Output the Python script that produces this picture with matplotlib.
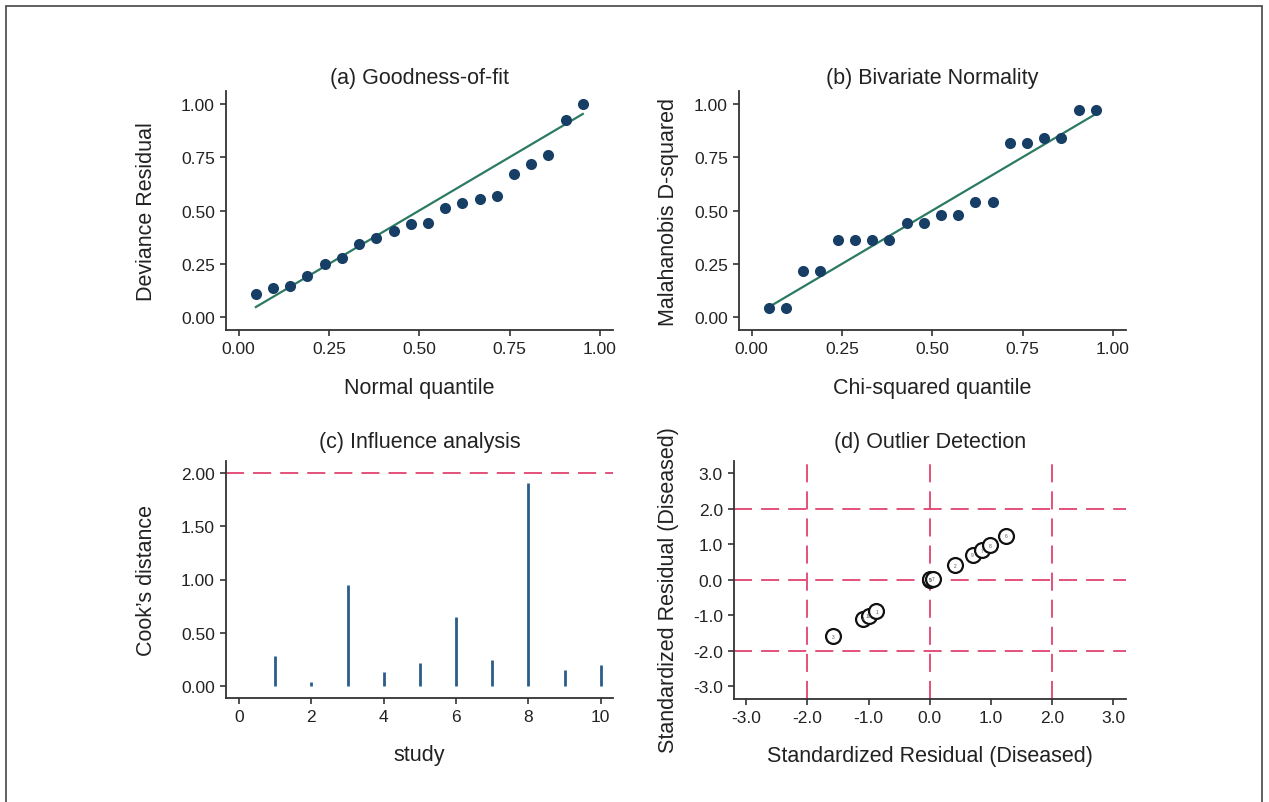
from __future__ import annotations

import matplotlib
matplotlib.use("Agg")
import matplotlib.pyplot as plt
from matplotlib.patches import Rectangle


# ---------------------------------------------------------------------
# Data
# ---------------------------------------------------------------------

# (a) goodness-of-fit: 20 deviance residuals vs normal quantiles
gof_quantile = [i / 21 for i in range(1, 21)]
gof_residual = [0.109, 0.139, 0.148, 0.192, 0.250, 0.278, 0.344, 0.372, 0.402, 0.436,
                0.441, 0.514, 0.533, 0.553, 0.569, 0.673, 0.719, 0.759, 0.925, 1.000]

# (b) bivariate normality: Mahalanobis D-squared vs chi-squared quantiles
bvn_quantile = [i / 21 for i in range(1, 21)]
bvn_dsq = [0.041, 0.041, 0.216, 0.216, 0.362, 0.362, 0.362, 0.362, 0.441, 0.441,
           0.477, 0.477, 0.538, 0.538, 0.814, 0.814, 0.841, 0.841, 0.969, 0.969]

# (c) influence analysis: Cook's distance per study
study_id = [1, 2, 3, 4, 5, 6, 7, 8, 9, 10]
cooks_d = [0.281, 0.044, 0.949, 0.131, 0.222, 0.646, 0.250, 1.900, 0.156, 0.200]
cooks_cutoff = 2.0

# (d) outlier detection: standardized residuals
outlier_x = [-1.58, -1.09, -1.00, -0.87, 0.00, 0.01, 0.05, 0.41, 0.70, 0.85, 0.98, 1.25]
outlier_y = [-1.59, -1.10, -1.01, -0.88, 0.00, 0.01, 0.03, 0.41, 0.70, 0.83, 0.98, 1.24]
outlier_labels = ["3", "4", "10", "1", "5", "9", "7", "2", "9", "7", "8", "6"]
outlier_cut = [-2.0, 0.0, 2.0]

quant_ticks = [0.00, 0.25, 0.50, 0.75, 1.00]
study_ticks = [0, 2, 4, 6, 8, 10]
cooks_ticks = [0.00, 0.50, 1.00, 1.50, 2.00]
resid_ticks = [-3.0, -2.0, -1.0, 0.0, 1.0, 2.0, 3.0]


# ---------------------------------------------------------------------
# Style
# ---------------------------------------------------------------------

plt.rcParams["font.family"] = ["Liberation Sans", "DejaVu Sans"]

DOT = "#173f66"
FIT = "#2b7a63"
STEM = "#2c5d8a"
CUT = "#e0436f"
AXC = "#333333"
TXT = "#222222"

TITLE_FS = 15.5
LABEL_FS = 15.5
TICK_FS = 12.5


def _style_axes(ax) -> None:
    for side in ("top", "right"):
        ax.spines[side].set_visible(False)
    for side in ("left", "bottom"):
        ax.spines[side].set_color(AXC)
        ax.spines[side].set_linewidth(1.3)
    ax.tick_params(direction="out", length=4.5, width=1.2, colors=AXC,
                   labelsize=TICK_FS, labelcolor=TXT)


def _labels(ax, title, xlabel, ylabel, ylab_x, ylab_y=0.5, title_pad=6) -> None:
    ax.set_title(title, fontsize=TITLE_FS, color=TXT, pad=title_pad)
    ax.set_xlabel(xlabel, fontsize=LABEL_FS, color=TXT, va="top")
    ax.set_ylabel(ylabel, fontsize=LABEL_FS, color=TXT)
    ax.xaxis.set_label_coords(0.5, -0.195)
    ax.yaxis.set_label_coords(ylab_x, ylab_y)


def _cut_line(ax, value, horizontal=True) -> None:
    kw = dict(color=CUT, lw=1.3, linestyle=(0, (10, 5)), zorder=1)
    if horizontal:
        ax.axhline(value, **kw)
    else:
        ax.axvline(value, **kw)


# ---------------------------------------------------------------------
# Panels
# ---------------------------------------------------------------------

def plot_qq(ax, x, y, title, xlabel, ylabel, ylab_x) -> None:
    ax.plot([x[0], x[-1]], [x[0], x[-1]], color=FIT, lw=1.6, zorder=2)
    ax.scatter(x, y, s=64, color=DOT, zorder=3, linewidths=0)
    ax.set_xlim(-0.035, 1.036)
    ax.set_ylim(-0.06, 1.06)
    ax.set_xticks(quant_ticks)
    ax.set_yticks(quant_ticks)
    ax.set_xticklabels([f"{t:.2f}" for t in quant_ticks])
    ax.set_yticklabels([f"{t:.2f}" for t in quant_ticks])
    _style_axes(ax)
    _labels(ax, title, xlabel, ylabel, ylab_x)


def plot_cooks(ax) -> None:
    ax.vlines(study_id, 0, cooks_d, color=STEM, lw=2.0, zorder=2)
    _cut_line(ax, cooks_cutoff)
    ax.set_xlim(-0.36, 10.34)
    ax.set_ylim(-0.11, 2.11)
    ax.set_xticks(study_ticks)
    ax.set_yticks(cooks_ticks)
    ax.set_yticklabels([f"{t:.2f}" for t in cooks_ticks])
    _style_axes(ax)
    _labels(ax, "(c) Influence analysis", "study", "Cook\u2019s distance", -0.178, title_pad=10)


def plot_outliers(ax) -> None:
    for v in outlier_cut:
        _cut_line(ax, v, horizontal=True)
        _cut_line(ax, v, horizontal=False)
    ax.scatter(outlier_x, outlier_y, s=115, facecolors="white", edgecolors="#111111",
               linewidths=1.6, zorder=3)
    for x, y, lab in zip(outlier_x, outlier_y, outlier_labels):
        ax.text(x, y, lab, fontsize=3.5, color="#555555", ha="center", va="center", zorder=4)
    ax.set_xlim(-3.2, 3.21)
    ax.set_ylim(-3.36, 3.35)
    ax.set_xticks(resid_ticks)
    ax.set_yticks(resid_ticks)
    ax.set_xticklabels([f"{t:.1f}" for t in resid_ticks])
    ax.set_yticklabels([f"{t:.1f}" for t in resid_ticks])
    _style_axes(ax)
    _labels(ax, "(d) Outlier Detection", "Standardized Residual (Diseased)",
            "Standardized Residual (Diseased)", -0.141, ylab_y=0.46, title_pad=10)


# ---------------------------------------------------------------------
# Main
# ---------------------------------------------------------------------

def main() -> None:
    W, H = 1269, 803
    fig = plt.figure(figsize=(W / 100, H / 100), dpi=100)

    def box(l, t, r, b):
        return [l / W, 1 - b / H, (r - l) / W, (b - t) / H]

    ax_a = fig.add_axes(box(226, 92, 613, 331))
    ax_b = fig.add_axes(box(739, 92, 1126, 331))
    ax_c = fig.add_axes(box(226, 462, 613, 699))
    ax_d = fig.add_axes(box(734, 462, 1126, 700))

    plot_qq(ax_a, gof_quantile, gof_residual, "(a) Goodness-of-fit",
            "Normal quantile", "Deviance Residual", -0.178)
    plot_qq(ax_b, bvn_quantile, bvn_dsq, "(b) Bivariate Normality",
            "Chi-squared quantile", "Malahanobis D-squared", -0.156)
    plot_cooks(ax_c)
    plot_outliers(ax_d)

    # thin frame around the whole figure (open at the bottom edge)
    fig.add_artist(Rectangle((6 / W, -0.02), 1256 / W, (H - 7) / H + 0.02,
                             transform=fig.transFigure, fill=False,
                             edgecolor="#444444", lw=1.2, clip_on=False))

    fig.savefig("out.png", dpi=100)
    plt.close(fig)


if __name__ == "__main__":
    main()
